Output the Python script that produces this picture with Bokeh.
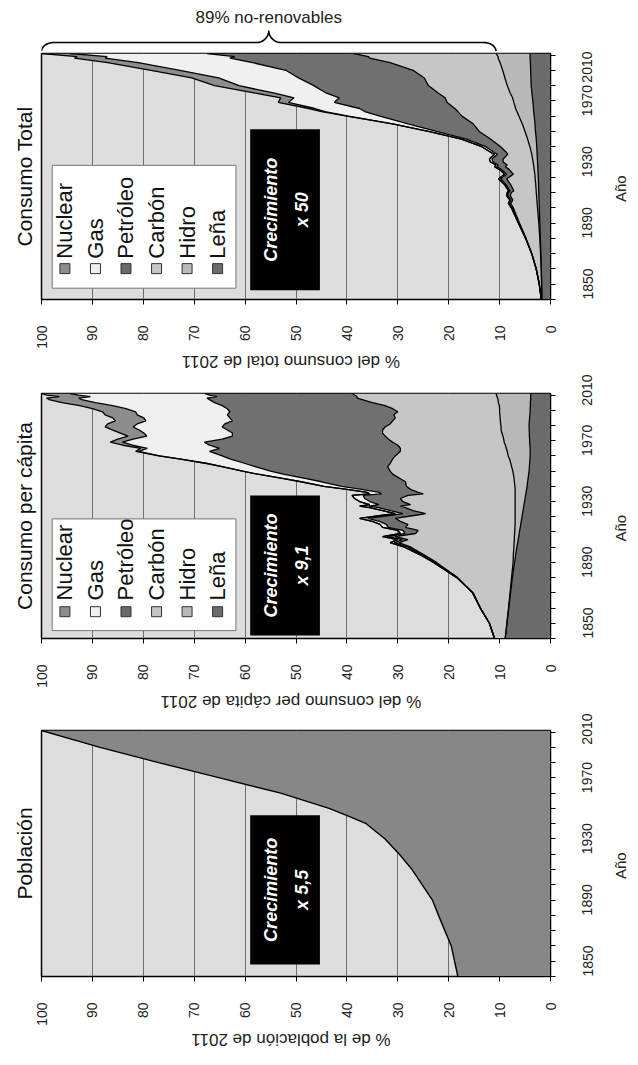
import math
from bokeh.plotting import figure
from bokeh.models import ColumnDataSource, Range1d, FixedTicker, Title
from bokeh.layouts import column, row
from bokeh.embed import file_html
from bokeh.resources import INLINE
from bokeh.core.properties import value

# ------------------------------------------------------------------ data
# Población (% de la población de 2011)
pob_anios = [1850, 1870, 1890, 1900, 1910, 1920, 1930, 1940, 1950, 1955, 1960, 1970, 1980, 1990, 2000, 2011]
pob_pct = [18.2, 19.5, 22.0, 23.2, 25.2, 27.2, 29.7, 32.5, 36.2, 39.7, 43.5, 53.0, 65.0, 77.0, 88.5, 100.0]

# Consumo total (% del consumo total de 2011)
tot_anios = [1850, 1860, 1870, 1880, 1890, 1900, 1905, 1910, 1913, 1915, 1918, 1920, 1921, 1925, 1929,
             1932, 1935, 1937, 1938, 1940, 1942, 1945, 1946, 1950, 1955, 1960, 1965, 1970, 1973, 1975,
             1979, 1982, 1985, 1990, 1995, 2000, 2005, 2008, 2009, 2011]
tot_lena = [1.7, 1.75, 1.8, 1.9, 2.0, 2.1, 2.15, 2.2, 2.23, 2.25, 2.28, 2.3, 2.31, 2.35, 2.39,
            2.43, 2.48, 2.5, 2.52, 2.55, 2.58, 2.63, 2.64, 2.7, 2.8, 2.95, 3.05, 3.2, 3.3, 3.35,
            3.45, 3.55, 3.65, 3.8, 3.85, 3.9, 3.95, 4.0, 4.0, 4.0]
tot_hidro = [0.0, 0.0, 0.02, 0.05, 0.1, 0.2, 0.28, 0.35, 0.4, 0.42, 0.46, 0.5, 0.5, 0.55, 0.62,
             0.65, 0.72, 0.78, 0.8, 0.88, 0.95, 1.05, 1.1, 1.35, 1.7, 2.05, 2.5, 3.0, 3.3, 3.5,
             3.75, 3.9, 4.25, 4.7, 5.1, 5.5, 5.95, 6.3, 6.3, 6.7]
tot_carbon = [0.1, 0.45, 0.98, 1.7, 2.7, 3.8, 4.27, 4.75, 5.17, 4.73, 5.16, 4.9, 4.39, 4.9, 5.59,
              4.22, 4.9, 5.62, 5.18, 5.87, 5.77, 4.72, 4.86, 5.75, 7.3, 9.0, 9.65, 11.2, 11.6, 11.95,
              13.1, 13.25, 14.1, 15.5, 15.85, 17.6, 21.6, 25.2, 25.5, 27.9]
tot_petroleo = [0.0, 0.0, 0.01, 0.03, 0.05, 0.1, 0.18, 0.25, 0.35, 0.4, 0.5, 0.55, 0.75, 0.9, 1.2,
                1.3, 1.5, 1.65, 1.75, 2.0, 2.2, 2.0, 2.4, 2.9, 4.7, 8.4, 12.8, 16.1, 18.3, 18.7,
                22.2, 20.8, 22.0, 22.5, 24.7, 25.0, 27.0, 27.5, 26.2, 28.9]
tot_gas = [0.0, 0.0, 0.0, 0.02, 0.05, 0.1, 0.12, 0.15, 0.15, 0.2, 0.2, 0.25, 0.25, 0.3, 0.4,
           0.4, 0.4, 0.45, 0.45, 0.5, 0.5, 0.6, 0.6, 0.8, 1.0, 1.6, 3.0, 6.2, 7.8, 8.8,
           9.0, 8.9, 10.2, 14.7, 15.7, 20.8, 22.5, 24.5, 25.1, 26.9]
tot_nuclear = [0.0, 0.0, 0.0, 0.0, 0.0, 0.0, 0.0, 0.0, 0.0, 0.0, 0.0, 0.0, 0.0, 0.0, 0.0,
               0.0, 0.0, 0.0, 0.0, 0.0, 0.0, 0.0, 0.0, 0.0, 0.0, 0.0, 0.05, 0.3, 0.7, 1.2,
               2.0, 2.6, 3.8, 4.8, 5.3, 5.7, 6.0, 6.0, 5.9, 5.6]

# Consumo per cápita (% del consumo per cápita de 2011)
pc_anios = [1850, 1860, 1870, 1880, 1890, 1900, 1905, 1910, 1913, 1915, 1917, 1919, 1921, 1923, 1925,
            1927, 1929, 1931, 1932, 1934, 1936, 1937, 1938, 1940, 1942, 1944, 1945, 1946, 1948, 1950,
            1953, 1955, 1958, 1960, 1963, 1965, 1968, 1970, 1973, 1975, 1977, 1979, 1981, 1983, 1985,
            1987, 1989, 1991, 1993, 1995, 1997, 1999, 2001, 2003, 2005, 2007, 2008, 2009, 2010, 2011]
pc_lena = [8.9, 8.55, 8.2, 7.85, 7.5, 7.05, 6.85, 6.6, 6.45, 6.35, 6.25, 6.15, 6.05, 5.95, 5.85,
           5.75, 5.65, 5.55, 5.5, 5.4, 5.3, 5.25, 5.2, 5.1, 5.0, 4.9, 4.85, 4.8, 4.7, 4.6,
           4.5, 4.4, 4.3, 4.2, 4.15, 4.1, 4.05, 4.0, 4.0, 4.0, 4.05, 4.1, 4.1, 4.15, 4.15,
           4.2, 4.2, 4.2, 4.15, 4.1, 4.05, 4.0, 4.0, 3.95, 3.95, 3.9, 3.9, 3.9, 3.9, 3.9]
pc_hidro = [0.0, 0.02, 0.05, 0.1, 0.15, 0.3, 0.45, 0.6, 0.7, 0.75, 0.85, 0.9, 0.95, 1.05, 1.1,
            1.2, 1.3, 1.4, 1.45, 1.55, 1.65, 1.7, 1.75, 1.85, 1.95, 2.05, 2.1, 2.15, 2.25, 2.4,
            2.6, 2.75, 3.0, 3.2, 3.5, 3.7, 4.0, 4.3, 4.5, 4.7, 4.8, 5.0, 5.1, 5.2, 5.4,
            5.5, 5.5, 5.6, 5.7, 5.8, 5.9, 6.0, 6.0, 6.1, 6.3, 6.4, 6.5, 6.6, 6.7, 6.8]
pc_carbon = [2.1, 3.43, 5.5, 7.25, 10.6, 15.05, 17.55, 20.2, 22.65, 20.9, 23.4, 19.45, 19.0, 21.5, 21.05,
             22.55, 23.55, 19.55, 17.55, 20.05, 21.55, 22.55, 20.55, 22.05, 22.55, 21.05, 18.05, 19.05, 20.55, 21.3,
             21.4, 22.35, 23.7, 24.1, 24.35, 23.7, 22.95, 22.2, 21.0, 20.8, 21.15, 21.9, 22.6, 23.15, 23.45,
             23.3, 22.8, 21.7, 21.15, 20.6, 20.85, 20.0, 21.0, 22.45, 24.75, 26.7, 27.6, 27.5, 27.9, 28.2]
pc_petroleo = [0.0, 0.0, 0.05, 0.05, 0.05, 0.3, 0.3, 0.6, 0.9, 1.15, 1.6, 2.05, 3.0, 3.4, 4.25,
               4.1, 5.4, 4.9, 4.5, 4.45, 5.3, 6.2, 6.2, 6.5, 7.0, 8.8, 8.2, 7.6, 9.6, 12.7,
               16.5, 18.5, 21.5, 23.5, 26.0, 28.5, 32.0, 34.0, 37.5, 35.5, 37.0, 37.0, 32.7, 30.0, 29.5,
               30.5, 32.0, 32.5, 31.5, 32.5, 32.7, 33.0, 32.5, 32.0, 31.0, 30.0, 29.5, 27.5, 28.5, 29.1]
pc_gas = [0.0, 0.0, 0.0, 0.05, 0.1, 0.3, 0.45, 0.7, 0.8, 0.85, 0.9, 0.95, 1.0, 1.1, 1.25,
          1.4, 1.6, 1.6, 1.5, 1.55, 1.7, 1.8, 1.8, 2.0, 2.0, 2.2, 2.3, 2.4, 2.9, 3.5,
          4.0, 4.4, 5.0, 5.5, 6.5, 7.45, 9.9, 12.25, 13.9, 14.2, 15.1, 16.1, 17.5, 16.8, 17.4,
          17.3, 17.5, 17.2, 17.0, 16.9, 17.7, 18.5, 19.9, 21.5, 23.4, 25.1, 25.2, 24.9, 25.8, 26.4]
pc_nuclear = [0.0, 0.0, 0.0, 0.0, 0.0, 0.0, 0.0, 0.0, 0.0, 0.0, 0.0, 0.0, 0.0, 0.0, 0.0,
              0.0, 0.0, 0.0, 0.0, 0.0, 0.0, 0.0, 0.0, 0.0, 0.0, 0.0, 0.0, 0.0, 0.0, 0.0,
              0.0, 0.0, 0.0, 0.0, 0.02, 0.05, 0.1, 0.25, 0.6, 1.3, 1.9, 2.4, 3.0, 3.7, 4.6,
              5.2, 5.5, 5.8, 6.0, 6.1, 6.3, 6.5, 6.6, 6.5, 6.6, 6.4, 6.3, 6.1, 6.2, 5.6]

fuentes = ["lena", "hidro", "carbon", "petroleo", "gas", "nuclear"]
fuente_colores = ["#6b6b6b", "#b9b9b9", "#c6c6c6", "#707070", "#f0f0f0", "#8d8d8d"]
leyenda_nombres = ["Nuclear", "Gas", "Petróleo", "Carbón", "Hidro", "Leña"]
leyenda_colores = ["#8d8d8d", "#f0f0f0", "#6a6a6a", "#c6c6c6", "#b9b9b9", "#6b6b6b"]

crec_total, crec_pc, crec_pob = "x 50", "x 9,1", "x 5,5"

# ------------------------------------------------------------------ style
FONT = "Liberation Sans"
TXT = "#222222"
BG = "#dddddd"
W = 630
BL, BR = 41, 80          # left / right border of the value axis frame
PW = 610                 # panel width (frame + year axis); a 20px strip holds "Año"
BB = 51                  # bottom border (value tick labels)


def panel(height, btop, titulo):
    p = figure(width=PW, height=height, x_range=Range1d(100, 0), y_range=Range1d(1850, 2011),
               output_backend="svg", toolbar_location=None, y_axis_location="right",
               min_border_left=BL, min_border_right=BR - (W - PW), min_border_top=btop,
               min_border_bottom=BB)
    p.background_fill_color = BG
    p.border_fill_color = "white"
    p.outline_line_color = "black"
    p.outline_line_width = 1.5
    p.ygrid.grid_line_color = None
    p.xgrid.grid_line_color = "#6f6f6f"
    p.xgrid.grid_line_width = 1

    xa = p.xaxis[0]
    xa.ticker = FixedTicker(ticks=[0, 10, 20, 30, 40, 50, 60, 70, 80, 90, 100])
    xa.major_label_orientation = math.pi / 2
    xa.major_tick_out = 5
    xa.major_tick_in = 0
    xa.minor_tick_out = 0
    xa.minor_tick_in = 0
    xa.major_label_standoff = 21
    xa.major_label_text_font = FONT
    xa.major_label_text_font_size = "14px"
    xa.major_label_text_color = TXT
    xa.axis_line_color = "black"
    xa.major_tick_line_color = "black"

    ya = p.yaxis[0]
    ya.ticker = FixedTicker(ticks=[1850, 1890, 1930, 1970, 2010],
                            minor_ticks=[1860, 1870, 1880, 1900, 1910, 1920, 1940, 1950, 1960, 1980, 1990, 2000])
    ya.major_tick_out = 5
    ya.major_tick_in = 0
    ya.minor_tick_out = 5
    ya.minor_tick_in = 0
    ya.major_label_orientation = math.pi / 2
    ya.major_label_standoff = 32
    ya.major_label_text_font = FONT
    ya.major_label_text_font_size = "14px"
    ya.major_label_text_color = TXT
    ya.axis_line_color = "black"

    p.add_layout(Title(text=titulo, align="center", text_font=FONT, text_font_size="21px",
                       text_font_style="normal", text_color="#111111", standoff=12), "left")
    return p


def tira_anio(p, btop):
    a = figure(width=W - PW, height=p.height, x_range=Range1d(0, 1), y_range=p.y_range,
               output_backend="svg", toolbar_location=None, x_axis_location=None,
               y_axis_location=None, min_border_left=0, min_border_right=0,
               min_border_top=btop, min_border_bottom=BB)
    a.outline_line_color = None
    a.grid.visible = False
    a.background_fill_color = "white"
    a.text(x=[0.5], y=[1922.5], text=["Año"], angle=math.pi / 2, text_align="center",
           text_baseline="middle", text_color=TXT, text_font=value(FONT), text_font_size="15px")
    return a


def tira_titulo_x(height, yc, texto):
    t = figure(width=W, height=height, x_range=Range1d(100, 0), y_range=Range1d(0, height),
               output_backend="svg", toolbar_location=None, x_axis_location=None,
               y_axis_location=None, min_border_left=BL, min_border_right=BR,
               min_border_top=0, min_border_bottom=0)
    t.outline_line_color = None
    t.grid.visible = False
    t.background_fill_color = "white"
    t.text(x=[51], y=[yc], text=[texto], angle=math.pi, text_align="center",
           text_baseline="middle", text_color=TXT, text_font=value(FONT), text_font_size="17px")
    return t


def caja_crecimiento(p, y0, y1, factor):
    p.quad(left=[59.0], right=[45.3], bottom=[y0], top=[y1], fill_color="black", line_color=None)
    yc = (y0 + y1) / 2
    p.text(x=[55.0, 48.8], y=[yc, yc], text=["Crecimiento", factor], angle=math.pi / 2,
           text_align="center", text_baseline="middle", text_color="white",
           text_font=value(FONT), text_font_style="bold italic", text_font_size="18px")


def leyenda(p, y0, y1, ysq, ytxt):
    p.quad(left=[97.9], right=[61.8], bottom=[y0], top=[y1], fill_color="white",
           line_color="#777777", line_width=1)
    xs = [95.4, 89.4, 83.4, 77.4, 71.4, 65.4]
    p.scatter(x=xs, y=[ysq] * 6, marker="square", size=10, fill_color=leyenda_colores,
              line_color="#333333", line_width=1)
    p.text(x=xs, y=[ytxt] * 6, text=leyenda_nombres, angle=math.pi / 2, text_align="left",
           text_baseline="middle", text_color="#111111", text_font=value(FONT),
           text_font_size="22px")


def apilado(p, anios, series):
    data = dict(anio=anios)
    for k, v in zip(fuentes, series):
        data[k] = v
    src = ColumnDataSource(data)
    p.harea_stack(fuentes, y="anio", fill_color=fuente_colores, source=src)
    p.hline_stack(fuentes, y="anio", line_color="black", line_width=1.3, source=src)


# ------------------------------------------------------------------ brace strip
bf = figure(width=W, height=51, x_range=Range1d(100, 0), y_range=Range1d(0, 51),
            output_backend="svg", toolbar_location=None, x_axis_location=None,
            y_axis_location=None, min_border_left=BL, min_border_right=BR,
            min_border_top=0, min_border_bottom=0)
bf.outline_line_color = None
bf.grid.visible = False
bf.background_fill_color = "white"

renovable = tot_lena[-1] + tot_hidro[-1]
U = 100 - renovable
mid = U / 2
r = 2.4
us, ys = [], []


def arco(cx, cy, rx, ry, a0, a1, n=10):
    for i in range(n + 1):
        t = math.radians(a0 + (a1 - a0) * i / n)
        us.append(cx + rx * math.cos(t))
        ys.append(cy + ry * math.sin(t))


arco(r, 0, r, 9, 180, 90)
arco(mid - r, 21, r, 12, 270, 360)
arco(mid + r, 21, r, 12, 180, 270)
arco(U - r, 0, r, 9, 90, 0)
bf.line(x=[100 - u for u in us], y=ys, line_color="black", line_width=1.6)
bf.text(x=[100 - mid], y=[34], text=[f"{round(100 - renovable)}% no-renovables"],
        text_align="center", text_baseline="alphabetic", text_color=TXT,
        text_font=value(FONT), text_font_size="17px")

# ------------------------------------------------------------------ panels
p1 = panel(300, 2, "Consumo Total")
apilado(p1, tot_anios, [tot_lena, tot_hidro, tot_carbon, tot_petroleo, tot_gas, tot_nuclear])
leyenda(p1, 1857.4, 1937.8, 1870.2, 1876.7)
caja_crecimiento(p1, 1856.0, 1961.5, crec_total)
a1 = tira_anio(p1, 2)
t1 = tira_titulo_x(23, 13, "% del consumo total de 2011")

p2 = panel(316, 19, "Consumo per cápita")
apilado(p2, pc_anios, [pc_lena, pc_hidro, pc_carbon, pc_petroleo, pc_gas, pc_nuclear])
leyenda(p2, 1855.2, 1928.6, 1867.6, 1875.0)
caja_crecimiento(p2, 1852.0, 1944.0, crec_pc)
a2 = tira_anio(p2, 19)
t2 = tira_titulo_x(23, 12, "% del consumo per cápita de 2011")

p3 = panel(315, 17, "Población")
src_pob = ColumnDataSource(dict(anio=pob_anios, pob=pob_pct))
p3.harea(x1=0, x2="pob", y="anio", fill_color="#878787", source=src_pob)
p3.line(x="pob", y="anio", line_color="black", line_width=1.4, source=src_pob)
caja_crecimiento(p3, 1857.8, 1955.6, crec_pob)
a3 = tira_anio(p3, 17)
t3 = tira_titulo_x(21, 10, "% de la población de 2011")

layout = column(bf, row(p1, a1, spacing=0), t1, row(p2, a2, spacing=0), t2,
                row(p3, a3, spacing=0), t3, spacing=0)
open("out.html", "w").write(file_html(layout, INLINE))
